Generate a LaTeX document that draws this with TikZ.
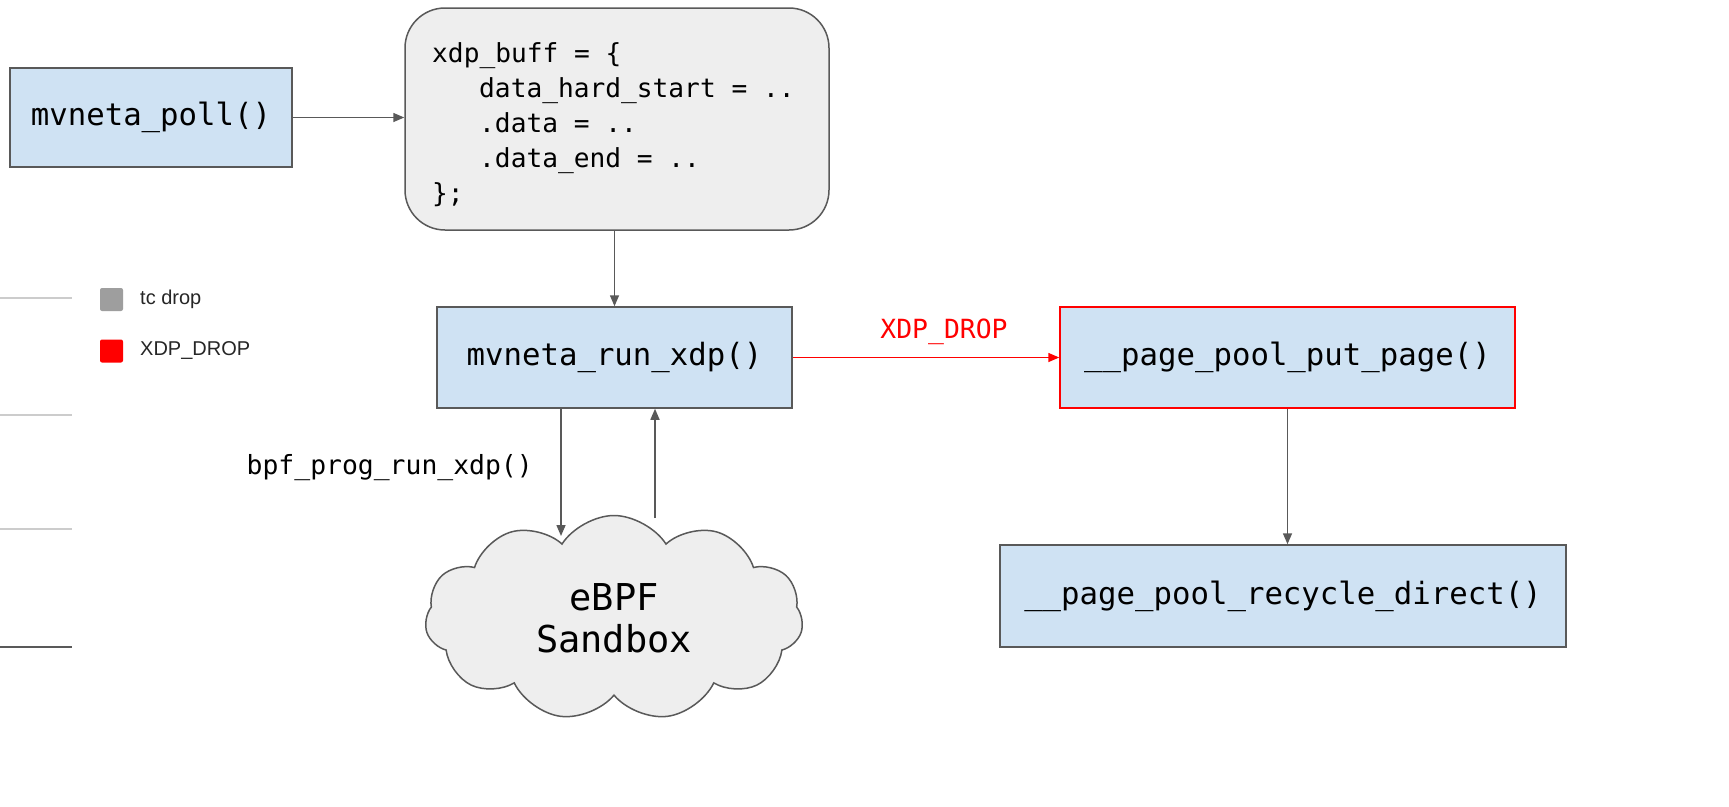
\documentclass[tikz,border=0pt]{standalone}
\usepackage{fontspec}
\setmainfont{Liberation Sans}
\newfontfamily\monof{DejaVu Sans Mono}
\usetikzlibrary{shapes.symbols,arrows.meta}
\definecolor{boxblue}{HTML}{CFE2F3}
\definecolor{edgegray}{HTML}{595959}
\definecolor{cloudfill}{HTML}{EEEEEE}
\definecolor{xred}{HTML}{FF0000}
\definecolor{legline}{HTML}{CCCCCC}
\definecolor{leggray}{HTML}{9E9E9E}
\begin{document}
\begin{tikzpicture}[x=1pt,y=-1pt,
  fnbox/.style={draw=edgegray,fill=boxblue,line width=1.5pt,inner sep=0pt,
    font=\fontsize{30.7}{36}\monof},
  redbox/.style={fnbox,draw=xred},
  arr/.style={draw=edgegray,line width=1.5pt,-{Triangle[length=11pt,width=9pt]}},
  redarr/.style={arr,draw=xred,-{Triangle[length=11pt,width=9pt,fill=xred]}},
  codeline/.style={anchor=base west,inner sep=0pt,font=\fontsize{26.2}{35}\monof},
  smallmono/.style={inner sep=0pt,font=\fontsize{26.4}{32}\monof},
  legtext/.style={anchor=west,inner sep=0pt,font=\fontsize{20}{24}\selectfont,text=black!85},
  legsq/.style={minimum size=23pt,inner sep=0pt,rounded corners=2pt}]
\useasboundingbox (0,0) rectangle (1729,806);
\fill[white] (0,0) rectangle (1729,806);

% legend
\draw[legline,line width=1.5pt] (0,298) -- (72,298);
\draw[legline,line width=1.5pt] (0,415) -- (72,415);
\draw[legline,line width=1.5pt] (0,529) -- (72,529);
\draw[edgegray,line width=1.5pt] (0,647) -- (72,647);
\node[legsq,fill=leggray] (sqgray) at (111.5,299.5) {};
\node[legsq,fill=xred] (sqred) at (111.5,351) {};
\node[legtext] (ltc) at (140,299) {tc drop};
\node[legtext] (lxdp) at (140,350) {XDP\_DROP};

% boxes
\node[fnbox,minimum width=282pt,minimum height=99pt] (poll) at (151,117.5) {mvneta\_poll()};
\node[draw=edgegray,fill=cloudfill,line width=1.5pt,rounded corners=40pt,
      minimum width=424pt,minimum height=222pt] (buf) at (617,119) {};
\node[codeline] (c1) at (432,62) {xdp\_buff = \{};
\node[codeline] (c2) at (479,97) {data\_hard\_start = ..};
\node[codeline] (c3) at (479,132) {.data = ..};
\node[codeline] (c4) at (479,167) {.data\_end = ..};
\node[codeline] (c5) at (432,202) {\};};

\node[fnbox,minimum width=355pt,minimum height=101pt] (run) at (614.5,357.5) {mvneta\_run\_xdp()};
\node[redbox,minimum width=455pt,minimum height=101pt] (put) at (1287.5,357.5) {\_\_page\_pool\_put\_page()};
\node[fnbox,minimum width=566pt,minimum height=102pt] (rec) at (1283,596) {\_\_page\_pool\_recycle\_direct()};

\node[cloud,cloud puffs=11,cloud puff arc=115,cloud ignores aspect,draw=edgegray,fill=cloudfill,line width=1.5pt,
      minimum width=378pt,minimum height=205pt,inner sep=0pt,align=center,
      font=\fontsize{37}{42}\monof] (sand) at (614,618) {eBPF\\Sandbox};

% connectors
\draw[arr] (poll.east) -- (buf.west |- poll.east);
\draw[arr] (buf.south -| run.north) -- (run.north);
\draw[redarr] (run.east) -- (put.west);
\node[smallmono,text=xred] (droplbl) at (944,332) {XDP\_DROP};
\draw[arr] (put.south) -- (put.south |- rec.north);

\coordinate (dn) at (561,536);
\coordinate (up) at (655,518);
\draw[arr] (run.south -| dn) -- (dn);
\draw[arr] (up) -- (run.south -| up);
\node[smallmono,anchor=east] (bpflbl) at (533,468) {bpf\_prog\_run\_xdp()};
\end{tikzpicture}
\end{document}
